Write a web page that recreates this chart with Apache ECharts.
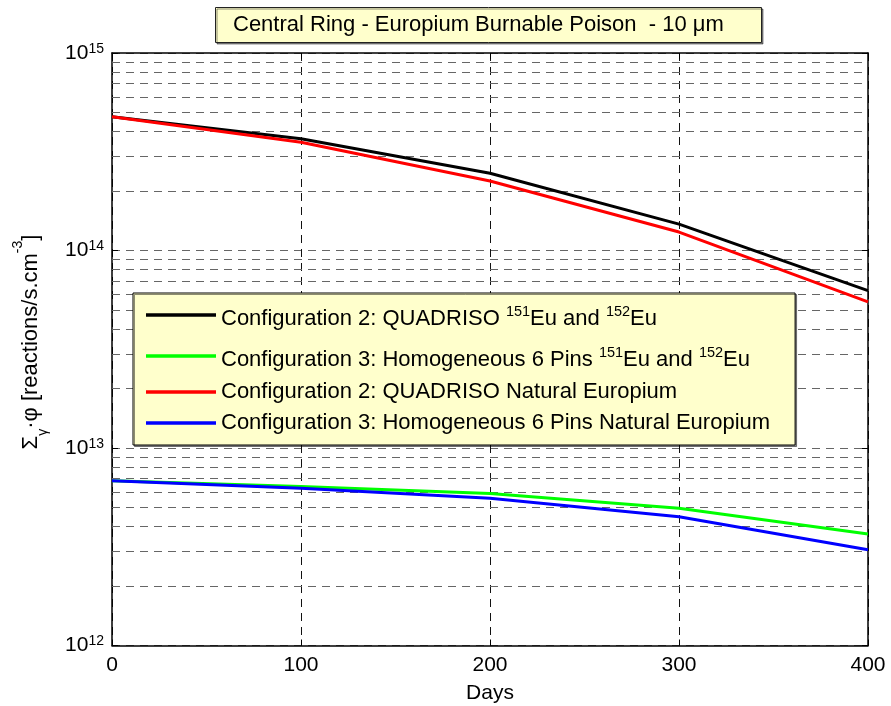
<!DOCTYPE html>
<html>
<head>
<meta charset="utf-8">
<script src="https://cdn.jsdelivr.net/npm/echarts@6/dist/echarts.min.js"></script>
<style>
  html, body { margin: 0; padding: 0; background: #fff; }
  #chart { width: 891px; height: 706px; }
</style>
</head>
<body>
<div id="chart"></div>
<script>
// Burnup days
const days = [0, 100, 200, 300, 400];

// Capture rate Σγ·φ [reactions/s.cm^-3]
const quadrisoIsotopes = [4.75e14, 3.68e14, 2.46e14, 1.36e14, 6.26e13];
const homogeneousIsotopes = [6.83e12, 6.38e12, 5.89e12, 4.95e12, 3.67e12];
const quadrisoNatural = [4.75e14, 3.53e14, 2.25e14, 1.24e14, 5.49e13];
const homogeneousNatural = [6.83e12, 6.25e12, 5.56e12, 4.49e12, 3.05e12];

const seriesNames = [
  'Configuration 2: QUADRISO 151Eu and 152Eu',
  'Configuration 3: Homogeneous 6 Pins 151Eu and 152Eu',
  'Configuration 2: QUADRISO Natural Europium',
  'Configuration 3: Homogeneous 6 Pins Natural Europium'
];
const seriesColors = ['#000000', '#00ff00', '#ff0000', '#0000ff'];
const seriesValues = [quadrisoIsotopes, homogeneousIsotopes, quadrisoNatural, homogeneousNatural];

// Rich-text legend labels (with isotope superscripts)
const legendLabels = {};
legendLabels[seriesNames[0]] = '{n|Configuration 2: QUADRISO }{s|151}{n|Eu and }{s|152}{n|Eu}';
legendLabels[seriesNames[1]] = '{n|Configuration 3: Homogeneous 6 Pins }{s|151}{n|Eu and }{s|152}{n|Eu}';
legendLabels[seriesNames[2]] = '{p|Configuration 2: QUADRISO Natural Europium}';
legendLabels[seriesNames[3]] = '{p|Configuration 3: Homogeneous 6 Pins Natural Europium}';

const titleText = 'Central Ring - Europium Burnable Poison  - 10 \u03bcm';
const xLabel = 'Days';

// Minor decade gridlines 2..9 x 10^n
const minorGrid = [];
[12, 13, 14].forEach(function (e) {
  for (let k = 2; k <= 9; k++) minorGrid.push(k * Math.pow(10, e));
});

const FONT = '"Liberation Sans", Arial, Helvetica, sans-serif';
const dashGray = { type: [8, 6], color: '#666', width: 1 };

const chart = echarts.init(document.getElementById('chart'), null, { renderer: 'canvas' });

const series = [{
  name: '__grid',
  type: 'line',
  data: [],
  z: 1,
  silent: true,
  markLine: {
    z: 1,
    silent: true,
    symbol: ['none', 'none'],
    label: { show: false },
    lineStyle: dashGray,
    animation: false,
    data: minorGrid.map(function (v) { return { yAxis: v }; })
  }
}];
seriesNames.forEach(function (name, i) {
  series.push({
    name: name,
    type: 'line',
    z: 3,
    symbol: 'none',
    color: seriesColors[i],
    lineStyle: { width: 3, color: seriesColors[i] },
    data: days.map(function (d, j) { return [d, seriesValues[i][j]]; })
  });
});

chart.setOption({
  animation: false,
  backgroundColor: '#ffffff',
  textStyle: { fontFamily: FONT },
  title: {
    text: titleText,
    left: 215,
    top: 7,
    padding: [6, 0, 6, 18],
    backgroundColor: '#ffffcc',
    borderColor: '#222',
    borderWidth: 1,
    shadowColor: 'rgba(0,0,0,0.45)',
    shadowOffsetX: 1.5,
    shadowOffsetY: 1.5,
    textStyle: {
      fontFamily: FONT, fontSize: 22, fontWeight: 'normal', color: '#000',
      lineHeight: 24, width: 529
    }
  },
  grid: { left: 112, top: 53, right: 23, bottom: 60.5, containLabel: false, outerBoundsMode: 'none' },
  legend: {
    orient: 'vertical',
    left: 133,
    top: 293,
    z: 10,
    data: seriesNames,
    icon: 'rect',
    itemWidth: 70,
    itemHeight: 3.5,
    itemGap: 9,
    padding: [6, 25, 11, 13],
    backgroundColor: '#ffffcc',
    borderColor: '#000',
    borderWidth: 1,
    shadowColor: 'rgba(0,0,0,0.45)',
    shadowOffsetX: 1.5,
    shadowOffsetY: 1.5,
    formatter: function (name) { return legendLabels[name]; },
    textStyle: {
      fontFamily: FONT, color: '#000',
      rich: {
        // equal token heights: the vertical offset comes from padding alone
        n: { fontFamily: FONT, fontSize: 22, lineHeight: 24, padding: [8, 0, 0, 0], color: '#000' },
        s: { fontFamily: FONT, fontSize: 14.5, lineHeight: 15, padding: [5, 0, 12, 0], color: '#000' },
        p: { fontFamily: FONT, fontSize: 22, lineHeight: 24, color: '#000' }
      }
    }
  },
  xAxis: [{
    type: 'value',
    min: 0, max: 400, interval: 100,
    position: 'bottom',
    name: xLabel,
    nameLocation: 'middle',
    nameGap: 36,
    nameTextStyle: { fontFamily: FONT, fontSize: 21, color: '#000', lineHeight: 24 },
    axisLine: { show: true, onZero: false, lineStyle: { color: '#000', width: 1.5 } },
    axisTick: { show: true, inside: true, length: 6, lineStyle: { color: '#000' } },
    axisLabel: { fontFamily: FONT, fontSize: 21, color: '#000', margin: 9 },
    splitLine: { show: true, lineStyle: { type: [8, 6], color: '#111', width: 1 } }
  }, {
    type: 'value',
    min: 0, max: 400, interval: 100,
    position: 'top',
    axisLine: { show: true, onZero: false, lineStyle: { color: '#000', width: 1.5 } },
    axisTick: { show: true, inside: true, length: 6, lineStyle: { color: '#000' } },
    axisLabel: { show: false },
    splitLine: { show: false }
  }],
  yAxis: [{
    type: 'log',
    logBase: 10,
    min: 1e12, max: 1e15, interval: 1,
    position: 'left',
    axisLine: { show: true, onZero: false, lineStyle: { color: '#000', width: 1.5 } },
    axisTick: { show: true, inside: true, length: 6, lineStyle: { color: '#000' } },
    axisLabel: {
      margin: 8,
      formatter: function (v) {
        const e = Math.round(Math.log(v) / Math.LN10);
        return '{b|10}{s|' + e + '}';
      },
      rich: {
        b: { fontFamily: FONT, fontSize: 21, lineHeight: 22, verticalAlign: 'middle', color: '#000' },
        s: { fontFamily: FONT, fontSize: 14, lineHeight: 14, padding: [0, 0, 26, 0], verticalAlign: 'top', color: '#000' }
      }
    },
    splitLine: { show: true, lineStyle: dashGray }
  }, {
    type: 'log',
    logBase: 10,
    min: 1e12, max: 1e15, interval: 1,
    position: 'right',
    axisLine: { show: true, onZero: false, lineStyle: { color: '#000', width: 1.5 } },
    axisTick: { show: true, inside: true, length: 6, lineStyle: { color: '#000' } },
    axisLabel: { show: false },
    splitLine: { show: false }
  }],
  graphic: [{
    type: 'text',
    x: 31,
    y: 342,
    rotation: Math.PI / 2,
    silent: true,
    style: {
      text: '{n|\u03a3}{sub|\u03b3}{n|\u00b7\u03c6 [reactions/s.cm}{sup|-3}{n|]}',
      align: 'center',
      verticalAlign: 'middle',
      fill: '#000',
      rich: {
        n: { fontFamily: FONT, fontSize: 22, lineHeight: 24, padding: [8, 0, 8, 0], fill: '#000' },
        sub: { fontFamily: FONT, fontSize: 14, lineHeight: 14, padding: [25, 0, 1, 0], fill: '#000' },
        sup: { fontFamily: FONT, fontSize: 14, lineHeight: 14, padding: [0, 0, 26, 0], fill: '#000' }
      }
    }
  }],
  series: series
});
</script>
</body>
</html>
